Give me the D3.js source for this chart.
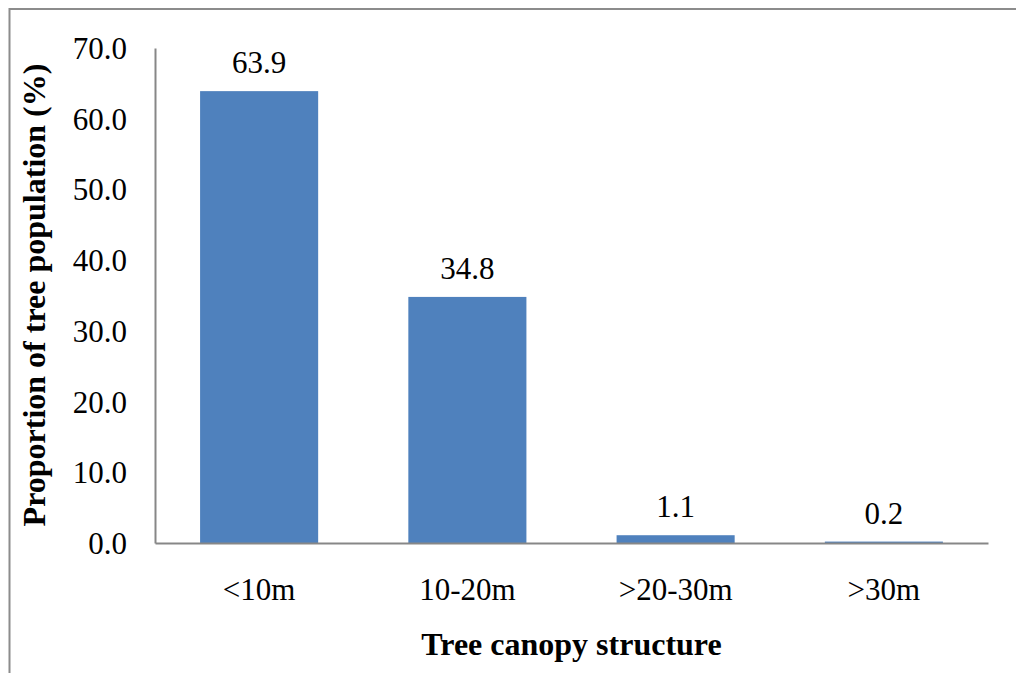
<!DOCTYPE html>
<html>
<head>
<meta charset="utf-8">
<script src="https://cdn.jsdelivr.net/npm/d3@7"></script>
<style>
  html, body { margin: 0; padding: 0; background: #fff; }
  svg { display: block; }
</style>
</head>
<body>
<svg id="chart" width="1016" height="673"></svg>
<script>
// Tree canopy structure vs. share of the tree population
const categories = ["<10m", "10-20m", ">20-30m", ">30m"];
const proportions = [63.9, 34.8, 1.1, 0.2];
const yTicks = [0, 10, 20, 30, 40, 50, 60, 70];
const xTitle = "Tree canopy structure";
const yTitle = "Proportion of tree population (%)";

const svg = d3.select("#chart");
const W = 1016, H = 673;
const plot = { left: 155, right: 988, top: 48, bottom: 543 };
const serif = "'Liberation Serif', 'Times New Roman', Times, serif";
const axisGray = "#878787";

svg.append("rect").attr("width", W).attr("height", H).attr("fill", "#fff");

// outer frame (only the top and left edges fall inside the page)
svg.append("rect")
  .attr("x", 9.5).attr("y", 9)
  .attr("width", W + 20).attr("height", H + 20)
  .attr("fill", "none").attr("stroke", "#8c8c8c").attr("stroke-width", 2);

const x = d3.scaleBand()
  .domain(categories)
  .range([plot.left, plot.right])
  .paddingInner(0.433)
  .paddingOuter(0.2165);

const y = d3.scaleLinear().domain([0, 70]).range([plot.bottom, plot.top]);

// bars
svg.append("g").selectAll("rect")
  .data(categories.map((c, i) => ({ c, v: proportions[i] })))
  .join("rect")
  .attr("x", d => x(d.c))
  .attr("y", d => y(d.v))
  .attr("width", x.bandwidth())
  .attr("height", d => y(0) - y(d.v))
  .attr("fill", "#4f81bd");

// value labels
svg.append("g").selectAll("text")
  .data(categories.map((c, i) => ({ c, v: proportions[i] })))
  .join("text")
  .attr("x", d => x(d.c) + x.bandwidth() / 2)
  .attr("y", d => y(d.v) - 18)
  .attr("text-anchor", "middle")
  .attr("font-family", serif)
  .attr("font-size", 31)
  .attr("fill", "#000")
  .text(d => d.v.toFixed(1));

// y axis
const yAxis = svg.append("g")
  .attr("transform", `translate(${plot.left},0)`)
  .call(d3.axisLeft(y).tickValues(yTicks).tickSize(0).tickPadding(28).tickFormat(d3.format(".1f")));
yAxis.select(".domain").attr("stroke", axisGray).attr("stroke-width", 2);
yAxis.selectAll("text")
  .attr("font-family", serif).attr("font-size", 31).attr("fill", "#000")
  .attr("dy", "0.34em");

// x axis
const xAxis = svg.append("g")
  .attr("transform", `translate(0,${plot.bottom})`)
  .call(d3.axisBottom(x).tickSize(0).tickPadding(0));
xAxis.select(".domain").attr("stroke", axisGray).attr("stroke-width", 2);
xAxis.selectAll("text")
  .attr("font-family", serif).attr("font-size", 31).attr("fill", "#000")
  .attr("dy", 0).attr("y", 600 - plot.bottom);

// axis titles
svg.append("text")
  .attr("x", (plot.left + plot.right) / 2)
  .attr("y", 655)
  .attr("text-anchor", "middle")
  .attr("font-family", serif).attr("font-weight", "bold").attr("font-size", 32)
  .attr("fill", "#000")
  .text(xTitle);

svg.append("text")
  .attr("transform", "translate(45,295) rotate(-90)")
  .attr("text-anchor", "middle")
  .attr("font-family", serif).attr("font-weight", "bold").attr("font-size", 32)
  .attr("fill", "#000")
  .text(yTitle);
</script>
</body>
</html>
